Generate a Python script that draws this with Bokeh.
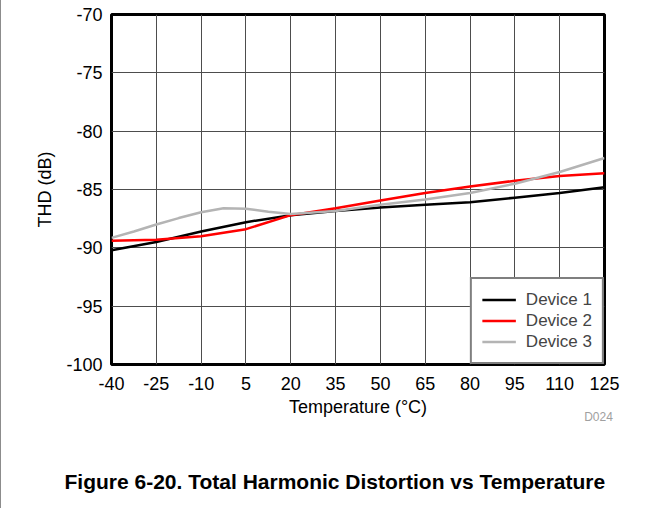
from bokeh.plotting import figure
from bokeh.models import Range1d, Legend, LegendItem, Title, FixedTicker, LinearAxis
from bokeh.embed import file_html
from bokeh.resources import INLINE

# Data
temps = [-40, -25, -10, 5, 20, 35, 50, 65, 80, 95, 110, 125]
device1 = [-90.2, -89.5, -88.6, -87.8, -87.2, -86.85, -86.55, -86.3, -86.1, -85.7, -85.3, -84.8]
device2 = [-89.4, -89.3, -89.0, -88.4, -87.2, -86.6, -85.95, -85.3, -84.75, -84.25, -83.85, -83.6]
temps3 = [-40, -32.5, -25, -17.5, -10, -2.5, 5, 12.5, 20, 35, 50, 65, 80, 95, 110, 125]
device3 = [-89.15, -88.6, -88.0, -87.45, -86.95, -86.6, -86.65, -86.9, -87.1, -86.85, -86.3, -85.85, -85.3, -84.5, -83.5, -82.3]

x_ticks = [-40, -25, -10, 5, 20, 35, 50, 65, 80, 95, 110, 125]
y_ticks = [-100, -95, -90, -85, -80, -75, -70]

series_names = ["Device 1", "Device 2", "Device 3"]
series_colors = ["#000000", "#ff0000", "#b4b4b4"]

FONT = "Liberation Sans"

p = figure(width=655, height=508, output_backend="svg", toolbar_location=None,
           x_range=Range1d(-40, 125), y_range=Range1d(-100, -70),
           min_border_left=110, min_border_right=52, min_border_top=14, min_border_bottom=144)
p.styles = {"border-left": "1px solid #8c8c8c"}
p.background_fill_color = "white"
p.border_fill_color = "white"
p.outline_line_color = "black"
p.outline_line_width = 3

for ax in (p.xaxis[0], p.yaxis[0]):
    ax.axis_line_color = None
    ax.major_tick_line_color = None
    ax.minor_tick_line_color = None
    ax.major_label_text_font = FONT
    ax.major_label_text_font_size = "18px"
    ax.major_label_text_color = "black"
    ax.axis_label_text_font = FONT
    ax.axis_label_text_font_size = "18px"
    ax.axis_label_text_font_style = "normal"
    ax.axis_label_text_color = "black"

p.xaxis.ticker = FixedTicker(ticks=x_ticks)
p.yaxis.ticker = FixedTicker(ticks=y_ticks)
p.xaxis.major_label_overrides = {t: str(t) for t in x_ticks}
p.yaxis.major_label_overrides = {t: str(t) for t in y_ticks}
p.xaxis.axis_label = "Temperature (°C)"
p.yaxis.axis_label = "THD (dB)"
p.xaxis.major_label_standoff = 6
p.yaxis.major_label_standoff = 3
p.xaxis.axis_label_standoff = 4
p.yaxis.axis_label_standoff = 8

p.xgrid.ticker = FixedTicker(ticks=x_ticks)
p.ygrid.ticker = FixedTicker(ticks=y_ticks)
for g in (p.xgrid[0], p.ygrid[0]):
    g.grid_line_color = "#4d4d4d"
    g.grid_line_width = 1

r1 = p.line(temps, device1, line_color=series_colors[0], line_width=2.5)
r2 = p.line(temps, device2, line_color=series_colors[1], line_width=2.5)
r3 = p.line(temps3, device3, line_color=series_colors[2], line_width=2.5)

legend = Legend(items=[LegendItem(label=series_names[0], renderers=[r1]),
                       LegendItem(label=series_names[1], renderers=[r2]),
                       LegendItem(label=series_names[2], renderers=[r3])],
                location="bottom_right", margin=0, padding=10, spacing=0,
                glyph_width=34, glyph_height=21, label_height=21, label_standoff=10,
                label_text_font=FONT, label_text_font_size="17px",
                border_line_color="black", border_line_width=2.5,
                background_fill_color="white", background_fill_alpha=1.0)
p.add_layout(legend, "center")

# figure code "D024" as a second bottom axis with a single labelled tick
code_axis = LinearAxis(ticker=FixedTicker(ticks=[123]), major_label_overrides={123: "D024"},
                       axis_line_color=None, major_tick_line_color=None, minor_tick_line_color=None,
                       major_label_text_font=FONT, major_label_text_font_size="12px",
                       major_label_text_color="#a0a0a0", major_label_standoff=-16)
p.add_layout(code_axis, "below")

# invisible spacer panel between the code and the caption (one white tick, empty label)
spacer_axis = LinearAxis(ticker=FixedTicker(ticks=[125]), major_label_overrides={125: ""},
                         axis_line_color=None, major_tick_line_color="white",
                         minor_tick_line_color=None, major_tick_in=0, major_tick_out=36,
                         major_label_standoff=0, major_label_text_font_size="1px")
p.add_layout(spacer_axis, "below")

caption = Title(text="Figure 6-20. Total Harmonic Distortion vs Temperature", align="left",
                text_font=FONT, text_font_size="21px", text_font_style="bold",
                text_color="black", offset=-47, standoff=10)
p.add_layout(caption, "below")

open("out.html", "w").write(file_html(p, INLINE))
